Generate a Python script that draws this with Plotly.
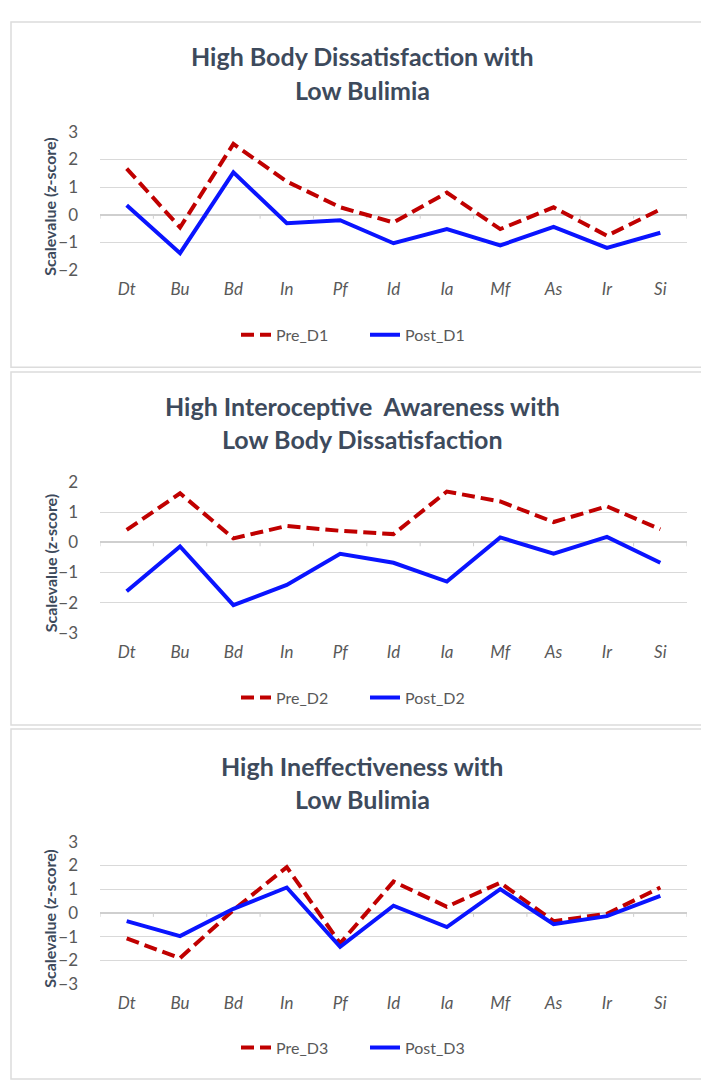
import plotly.graph_objects as go

categories = ["Dt", "Bu", "Bd", "In", "Pf", "Id", "Ia", "Mf", "As", "Ir", "Si"]

pre_d1 = [1.67, -0.46, 2.56, 1.20, 0.27, -0.28, 0.80, -0.52, 0.27, -0.76, 0.19]
post_d1 = [0.34, -1.39, 1.53, -0.31, -0.20, -1.03, -0.52, -1.11, -0.44, -1.20, -0.65]

pre_d2 = [0.41, 1.62, 0.13, 0.54, 0.38, 0.27, 1.68, 1.35, 0.67, 1.19, 0.43]
post_d2 = [-1.62, -0.14, -2.08, -1.41, -0.38, -0.68, -1.30, 0.16, -0.38, 0.18, -0.68]

pre_d3 = [-1.08, -1.91, 0.12, 1.93, -1.29, 1.32, 0.26, 1.27, -0.35, -0.04, 1.07]
post_d3 = [-0.35, -0.98, 0.17, 1.07, -1.43, 0.30, -0.60, 1.00, -0.48, -0.14, 0.72]

titles = [
    ("High Body Dissatisfaction with", "Low Bulimia"),
    ("High Interoceptive  Awareness with", "Low Body Dissatisfaction"),
    ("High Ineffectiveness with", "Low Bulimia"),
]
series_names = [("Pre_D1", "Post_D1"), ("Pre_D2", "Post_D2"), ("Pre_D3", "Post_D3")]
y_ranges = [(-2, 3), (-3, 2), (-3, 3)]
y_title = "Scalevalue (z-score)"

pre_series = [pre_d1, pre_d2, pre_d3]
post_series = [post_d1, post_d2, post_d3]

W, H = 709, 1085
# pixel layout (top, bottom of plot area; title lines; legend; panel box)
plot_px = [(115, 256), (472, 626), (839, 984)]
title_px = [(38, 72), (395, 428), (762, 795)]
legend_px = [322, 692, 1049]
box_px = [(3, 355), (360, 720), (724, 1081)]
x_left, x_right = 92, 679

FONT = "Lato"
TITLE_COLOR = "#3d4a5c"
TICK_COLOR = "#595959"
GRID = "#d9d9d9"
PRE_COLOR = "#C00000"
POST_COLOR = "#0a14ff"

def py(p):
    return 1 - p / H

fig = go.Figure()
layout = dict(
    width=W, height=H,
    margin=dict(l=0, r=0, t=0, b=0),
    paper_bgcolor="white", plot_bgcolor="white",
    showlegend=True,
    annotations=[], shapes=[],
    font=dict(family=FONT, color=TICK_COLOR),
)

for i in range(3):
    n = i + 1
    xa = "x" if n == 1 else f"x{n}"
    ya = "y" if n == 1 else f"y{n}"
    lg = "legend" if n == 1 else f"legend{n}"
    pre_name, post_name = series_names[i]

    fig.add_trace(go.Scatter(
        x=categories, y=pre_series[i], name=pre_name, mode="lines",
        line=dict(color=PRE_COLOR, width=4, dash="13px,6px"),
        xaxis=xa, yaxis=ya, legend=lg, hoverinfo="skip"))
    fig.add_trace(go.Scatter(
        x=categories, y=post_series[i], name=post_name, mode="lines",
        line=dict(color=POST_COLOR, width=4),
        xaxis=xa, yaxis=ya, legend=lg, hoverinfo="skip"))

    top, bot = plot_px[i]
    lo, hi = y_ranges[i]
    layout["xaxis" if n == 1 else f"xaxis{n}"] = dict(
        domain=[x_left / W, x_right / W], anchor=ya,
        type="category", range=[-0.5, len(categories) - 0.5],
        showgrid=False, showline=False, zeroline=False, ticks="",
        tickfont=dict(family=FONT, size=17, color=TICK_COLOR, style="italic"),
        ticklabelstandoff=7, fixedrange=True,
    )
    layout["yaxis" if n == 1 else f"yaxis{n}"] = dict(
        domain=[py(bot), py(top)], anchor=xa,
        range=[lo, hi], dtick=1, tick0=0,
        showgrid=True, gridcolor=GRID, gridwidth=1,
        zeroline=True, zerolinecolor="#cfcfcf", zerolinewidth=1.5,
        showline=False, ticks="",
        tickfont=dict(family=FONT, size=17, color=TICK_COLOR),
        ticklabelstandoff=21, fixedrange=True,
    )
    # axis title
    layout["annotations"].append(dict(
        text=f"<b>{y_title}</b>", textangle=-90,
        xref="paper", yref="paper", x=42 / W, y=py((top + bot) / 2 + 6),
        xanchor="center", yanchor="middle", showarrow=False,
        font=dict(family=FONT, size=16, color=TITLE_COLOR)))
    # chart title lines
    for line_text, yy in zip(titles[i], title_px[i]):
        layout["annotations"].append(dict(
            text=f"<b>{line_text}</b>", xref="paper", yref="paper",
            x=354 / W, y=py(yy), xanchor="center", yanchor="middle",
            showarrow=False, font=dict(family=FONT, size=25, color=TITLE_COLOR)))
    # legend
    layout[lg] = dict(
        orientation="h", x=357 / W, xanchor="center",
        y=py(legend_px[i]), yanchor="middle",
        font=dict(family=FONT, size=16, color=TICK_COLOR),
        entrywidth=84, entrywidthmode="pixels",
        bgcolor="rgba(0,0,0,0)", itemclick=False, itemdoubleclick=False,
    )
    # category boundary tick marks on the zero axis line
    for k in range(len(categories) + 1):
        layout["shapes"].append(dict(
            type="line", xref=xa, yref=ya, x0=k - 0.5, x1=k - 0.5,
            ysizemode="pixel", yanchor=0, y0=0, y1=-4,
            line=dict(color="#cfcfcf", width=1), layer="below"))
    # panel border
    b0, b1 = box_px[i]
    layout["shapes"].append(dict(
        type="rect", xref="paper", yref="paper",
        x0=3 / W, x1=703 / W, y0=py(b1), y1=py(b0),
        line=dict(color="#dcdcdc", width=1.5), layer="below"))

fig.update_layout(**layout)
fig.write_html("out.html")
